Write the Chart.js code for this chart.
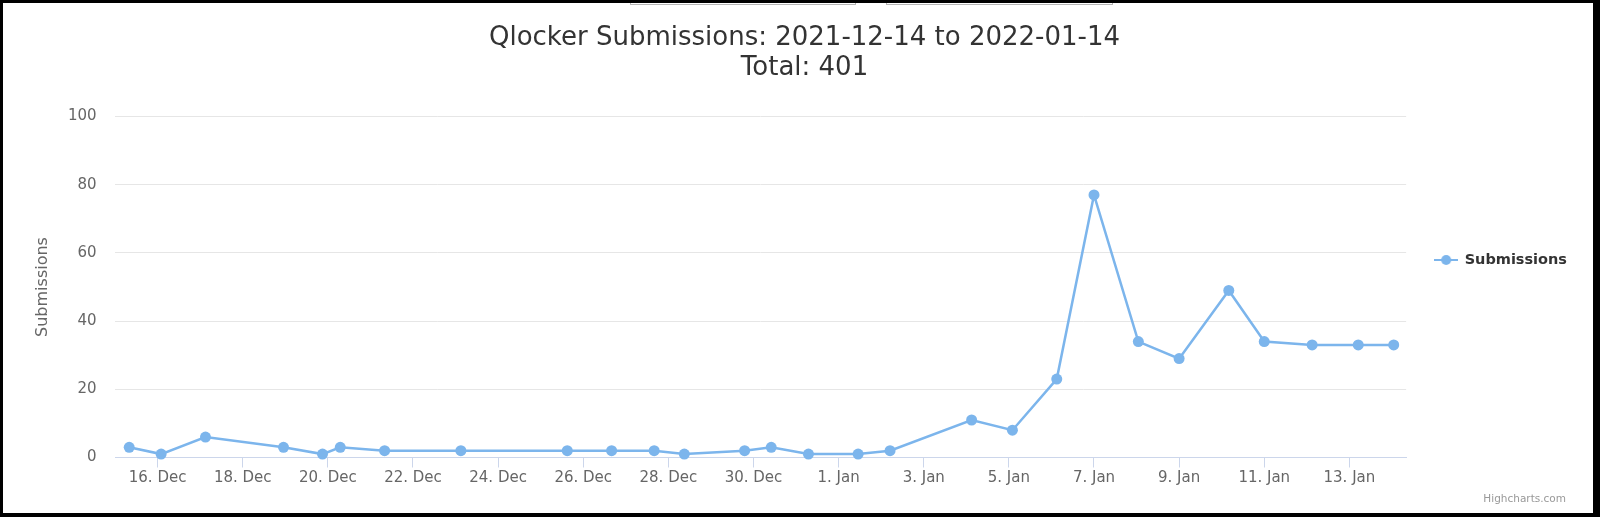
<!DOCTYPE html>
<html>
<head>
<meta charset="utf-8">
<script src="https://cdn.jsdelivr.net/npm/chart.js@4.4.1/dist/chart.umd.min.js"></script>
<style>
  html, body { margin: 0; padding: 0; background: #fff; }
  #wrap { position: relative; width: 1600px; height: 517px; overflow: hidden; }
  #chart { position: absolute; left: 0; top: 0; width: 1600px; height: 517px; }
  .btn { position: absolute; top: -2px; height: 5px; border: 1px solid #b5b5b5; background: #fff; }
  #frame { position: absolute; left: 0; top: 0; right: 0; bottom: 0; border-style: solid; border-color: #000;
           border-width: 3px 7px 4px 3px; pointer-events: none; }
</style>
</head>
<body>
<div id="wrap">
  <canvas id="chart" width="1600" height="517"></canvas>
  <div class="btn" style="left:630px;width:224px"></div>
  <div class="btn" style="left:886px;width:225px"></div>
  <div id="frame"></div>
</div>
<script>
// submissions per timestamp (UTC)
const pointTimes = [
  '2021-12-15T08:00', '2021-12-16T02:00', '2021-12-17T03:00', '2021-12-18T23:00',
  '2021-12-19T21:00', '2021-12-20T07:00', '2021-12-21T08:00', '2021-12-23T03:00',
  '2021-12-25T15:00', '2021-12-26T16:00', '2021-12-27T16:00', '2021-12-28T09:00',
  '2021-12-29T19:00', '2021-12-30T10:00', '2021-12-31T07:00', '2022-01-01T11:00',
  '2022-01-02T05:00', '2022-01-04T03:00', '2022-01-05T02:00', '2022-01-06T03:00',
  '2022-01-07T00:00', '2022-01-08T01:00', '2022-01-09T00:00', '2022-01-10T04:00',
  '2022-01-11T00:00', '2022-01-12T03:00', '2022-01-13T05:00', '2022-01-14T01:00'
]
const submissions = [3, 1, 6, 3, 1, 3, 2, 2, 2, 2, 2, 1, 2, 3, 1, 1, 2, 11, 8, 23, 77, 34, 29, 49, 34, 33, 33, 33]

const tickDays = [
  '2021-12-16', '2021-12-18', '2021-12-20', '2021-12-22', '2021-12-24', '2021-12-26',
  '2021-12-28', '2021-12-30', '2022-01-01', '2022-01-03', '2022-01-05', '2022-01-07',
  '2022-01-09', '2022-01-11', '2022-01-13'
]
const tickLabels = [
  '16. Dec', '18. Dec', '20. Dec', '22. Dec', '24. Dec', '26. Dec', '28. Dec', '30. Dec',
  '1. Jan', '3. Jan', '5. Jan', '7. Jan', '9. Jan', '11. Jan', '13. Jan'
]
const yTicks = [0, 20, 40, 60, 80, 100]

const axisStart = '2021-12-15T00:00'
const axisEnd = '2022-01-14T08:00'

function toMs(s) {
    return Date.parse(s.length > 10 ? s + 'Z' : s + 'T00:00Z')
}

let total = submissions.reduce((a, b) => a + b, 0)
let titleLines = ['Qlocker Submissions: 2021-12-14 to 2022-01-14', 'Total: ' + total]

let points = pointTimes.map(function (t, i) {
    return { x: toMs(t), y: submissions[i] }
})

// small line + dot icon for the legend, like highcharts
let legendIcon = document.createElement('canvas')
legendIcon.width = 24
legendIcon.height = 12
let ic = legendIcon.getContext('2d')
ic.strokeStyle = '#7cb5ec'
ic.lineWidth = 2
ic.beginPath()
ic.moveTo(0, 6)
ic.lineTo(24, 6)
ic.stroke()
ic.fillStyle = '#7cb5ec'
ic.beginPath()
ic.arc(12, 6, 5, 0, Math.PI * 2)
ic.fill()

const credits = {
    id: 'credits',
    afterDraw(chart) {
        let c = chart.ctx
        c.save()
        c.font = '10.5px "DejaVu Sans", sans-serif'
        c.fillStyle = '#999999'
        c.textAlign = 'right'
        c.textBaseline = 'middle'
        c.fillText('Highcharts.com', 1566, 499)
        c.restore()
    }
}

Chart.defaults.font.family = '"DejaVu Sans", sans-serif'

let currChart = document.getElementById('chart').getContext('2d')
let lineChart = new Chart(currChart, {
    type: 'line',
    data: {
        datasets: [{
            label: 'Submissions',
            data: points,
            borderColor: '#7cb5ec',
            backgroundColor: '#7cb5ec',
            borderWidth: 2.5,
            pointRadius: 5.5,
            pointBorderWidth: 0,
            pointBackgroundColor: '#7cb5ec',
            tension: 0,
            clip: false,
        }]
    },
    options: {
        responsive: false,
        animation: false,
        layout: { padding: { left: 32, right: 23, top: 30.5, bottom: 27.5 } },
        plugins: {
            title: {
                display: true,
                text: titleLines,
                color: '#333333',
                font: { size: 26, weight: 'normal', lineHeight: 1.154 },
                padding: { top: -7, bottom: 33 },
            },
            legend: {
                position: 'right',
                align: 'center',
                labels: {
                    usePointStyle: true,
                    pointStyleWidth: 22.5,
                    padding: 28.75,
                    color: '#333333',
                    font: { size: 14.5, weight: 'bold' },
                    generateLabels(chart) {
                        let items = Chart.defaults.plugins.legend.labels.generateLabels(chart)
                        items.forEach(function (it) { it.pointStyle = legendIcon })
                        return items
                    }
                }
            },
            tooltip: { enabled: false },
        },
        scales: {
            x: {
                type: 'linear',
                min: toMs(axisStart),
                max: toMs(axisEnd),
                afterBuildTicks(scale) {
                    scale.ticks = tickDays.map(d => ({ value: toMs(d) }))
                },
                ticks: {
                    autoSkip: false,
                    maxRotation: 0,
                    padding: 2,
                    color: '#666666',
                    font: { size: 15 },
                    callback: (value, index) => tickLabels[index],
                },
                grid: { drawOnChartArea: false, drawTicks: true, tickLength: 10, color: '#ccd6eb' },
                border: { color: '#ccd6eb', width: 1 },
            },
            y: {
                min: yTicks[0],
                max: yTicks[yTicks.length - 1],
                afterBuildTicks(scale) {
                    scale.ticks = yTicks.map(v => ({ value: v }))
                },
                ticks: { padding: 18.4, color: '#666666', font: { size: 15 } },
                grid: {
                    drawTicks: false,
                    color: ctx => (ctx.tick && ctx.tick.value === 0 ? '#ccd6eb' : '#e6e6e6'),
                },
                border: { display: false },
                title: {
                    display: true,
                    text: 'Submissions',
                    color: '#666666',
                    font: { size: 16 },
                    padding: { top: 1.4, bottom: -3 },
                },
            },
        },
    },
    plugins: [credits],
})
</script>
</body>
</html>
